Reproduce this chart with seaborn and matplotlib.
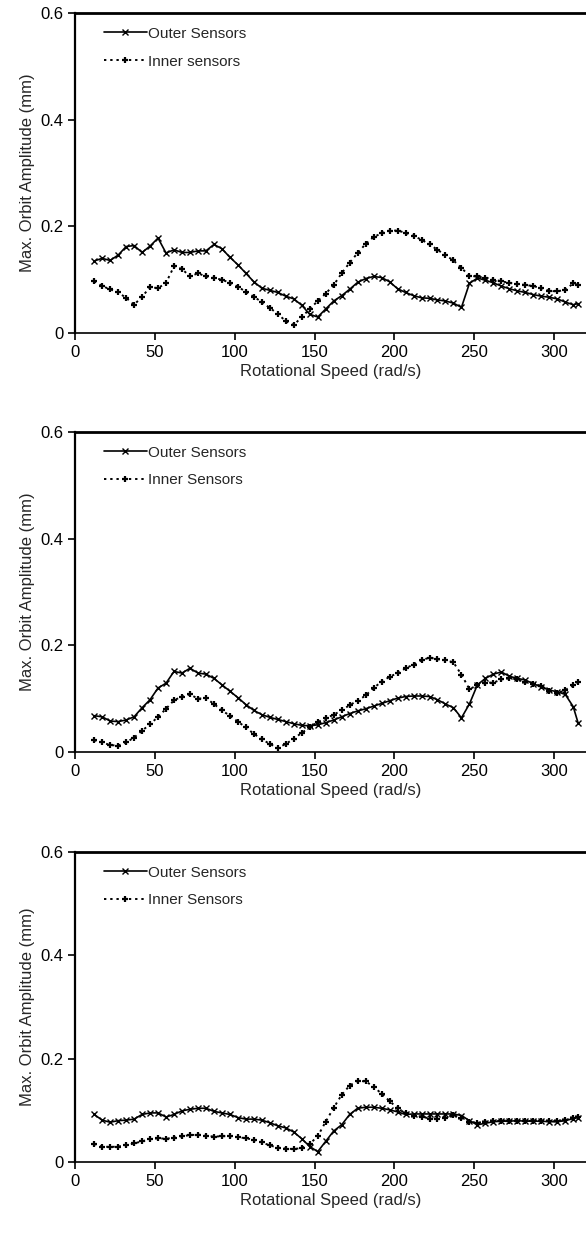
import numpy as np
import pandas as pd
import matplotlib
matplotlib.use("Agg")
import matplotlib.pyplot as plt
import seaborn as sns

# ---------------- data ----------------
speed = [12, 17, 22, 27, 32, 37, 42, 47, 52, 57, 62, 67, 72, 77, 82, 87, 92, 97,
         102, 107, 112, 117, 122, 127, 132, 137, 142, 147, 152, 157, 162, 167, 172,
         177, 182, 187, 192, 197, 202, 207, 212, 217, 222, 227, 232, 237, 242, 247,
         252, 257, 262, 267, 272, 277, 282, 287, 292, 297, 302, 307, 312, 315]

p1_outer = [0.135, 0.140, 0.136, 0.146, 0.162, 0.164, 0.151, 0.163, 0.178, 0.150,
            0.156, 0.151, 0.151, 0.154, 0.154, 0.166, 0.158, 0.142, 0.128, 0.112,
            0.096, 0.084, 0.080, 0.076, 0.069, 0.064, 0.052, 0.035, 0.030, 0.045,
            0.060, 0.070, 0.082, 0.095, 0.102, 0.106, 0.104, 0.096, 0.083, 0.076,
            0.070, 0.066, 0.065, 0.062, 0.060, 0.056, 0.048, 0.093, 0.103, 0.099,
            0.094, 0.088, 0.083, 0.079, 0.076, 0.072, 0.069, 0.067, 0.064, 0.058,
            0.053, 0.055]
p1_inner = [0.097, 0.088, 0.082, 0.076, 0.066, 0.053, 0.068, 0.086, 0.084, 0.094,
            0.125, 0.120, 0.106, 0.112, 0.106, 0.103, 0.100, 0.094, 0.087, 0.077,
            0.068, 0.058, 0.047, 0.036, 0.022, 0.015, 0.030, 0.045, 0.060, 0.074,
            0.090, 0.112, 0.132, 0.150, 0.167, 0.180, 0.187, 0.192, 0.192, 0.188,
            0.182, 0.175, 0.166, 0.156, 0.146, 0.136, 0.122, 0.107, 0.106, 0.103,
            0.100, 0.097, 0.094, 0.092, 0.090, 0.088, 0.084, 0.079, 0.078, 0.081,
            0.093, 0.090]

p2_outer = [0.068, 0.066, 0.058, 0.057, 0.060, 0.066, 0.083, 0.098, 0.120, 0.129,
            0.151, 0.148, 0.157, 0.148, 0.146, 0.138, 0.126, 0.114, 0.102, 0.089,
            0.078, 0.070, 0.065, 0.061, 0.057, 0.053, 0.050, 0.049, 0.051, 0.055,
            0.060, 0.066, 0.072, 0.077, 0.081, 0.086, 0.091, 0.096, 0.101, 0.104,
            0.105, 0.105, 0.104, 0.098, 0.090, 0.083, 0.064, 0.090, 0.126, 0.138,
            0.146, 0.150, 0.142, 0.138, 0.135, 0.128, 0.122, 0.116, 0.113, 0.108,
            0.085, 0.055]
p2_inner = [0.022, 0.018, 0.013, 0.012, 0.018, 0.027, 0.040, 0.052, 0.066, 0.081,
            0.097, 0.104, 0.108, 0.100, 0.101, 0.090, 0.078, 0.068, 0.057, 0.046,
            0.034, 0.024, 0.015, 0.008, 0.015, 0.025, 0.036, 0.046, 0.056, 0.063,
            0.070, 0.078, 0.088, 0.096, 0.106, 0.120, 0.132, 0.141, 0.148, 0.157,
            0.164, 0.172, 0.177, 0.174, 0.172, 0.168, 0.145, 0.118, 0.125, 0.130,
            0.130, 0.136, 0.139, 0.136, 0.131, 0.127, 0.124, 0.115, 0.110, 0.116,
            0.125, 0.132]

p3_outer = [0.092, 0.081, 0.077, 0.080, 0.081, 0.083, 0.092, 0.095, 0.095, 0.087,
            0.092, 0.099, 0.102, 0.104, 0.104, 0.098, 0.095, 0.092, 0.086, 0.083,
            0.083, 0.081, 0.076, 0.070, 0.066, 0.058, 0.045, 0.030, 0.020, 0.040,
            0.060, 0.072, 0.092, 0.104, 0.106, 0.106, 0.104, 0.101, 0.097, 0.092,
            0.093, 0.093, 0.093, 0.093, 0.093, 0.093, 0.090, 0.080, 0.072, 0.075,
            0.078, 0.079, 0.079, 0.080, 0.079, 0.079, 0.079, 0.078, 0.078, 0.080,
            0.084, 0.086]
p3_inner = [0.035, 0.030, 0.029, 0.030, 0.032, 0.036, 0.040, 0.044, 0.046, 0.045,
            0.047, 0.050, 0.052, 0.053, 0.051, 0.049, 0.050, 0.050, 0.048, 0.046,
            0.043, 0.038, 0.032, 0.028, 0.026, 0.025, 0.027, 0.035, 0.050, 0.078,
            0.105, 0.130, 0.148, 0.157, 0.156, 0.146, 0.132, 0.118, 0.104, 0.094,
            0.090, 0.088, 0.084, 0.083, 0.086, 0.091, 0.085, 0.078, 0.076, 0.078,
            0.079, 0.080, 0.080, 0.080, 0.079, 0.080, 0.080, 0.079, 0.079, 0.081,
            0.085, 0.087]

outer_labels = ["Outer Sensors", "Outer Sensors", "Outer Sensors"]
inner_labels = ["Inner sensors", "Inner Sensors", "Inner Sensors"]
x_ticks = [0, 50, 100, 150, 200, 250, 300]
y_ticks = [0, 0.2, 0.4, 0.6]
x_label = "Rotational Speed (rad/s)"
y_label = "Max. Orbit Amplitude (mm)"

# ---------------- plot ----------------
sns.set_style("ticks")
plt.rcParams["font.family"] = ["Liberation Sans", "DejaVu Sans"]

fig = plt.figure(figsize=(5.86, 12.35), dpi=100)

panels = [(p1_outer, p1_inner), (p2_outer, p2_inner), (p3_outer, p3_inner)]
boxes = [(13, 333), (432, 752), (852, 1162)]
H = 1235.0
left = 75 / 586.0

for i, ((outer, inner), (top, bot)) in enumerate(zip(panels, boxes)):
    ax = fig.add_axes([left, 1 - bot / H, 1 - left, (bot - top) / H])
    df = pd.DataFrame({"speed": speed, "outer": outer, "inner": inner})
    sns.lineplot(data=df, x="speed", y="outer", ax=ax, color="black", lw=1.2,
                 marker="x", markersize=4, markeredgewidth=1.0,
                 markeredgecolor="black", label=outer_labels[i], sort=False)
    sns.lineplot(data=df, x="speed", y="inner", ax=ax, color="black", lw=1.4,
                 linestyle=(0, (1.2, 2.0)), marker="+", markersize=4.5,
                 markeredgewidth=1.6, markeredgecolor="black",
                 label=inner_labels[i], sort=False)
    ax.set_xlim(0, 320)
    ax.set_ylim(0, 0.6)
    ax.set_xticks(x_ticks)
    ax.set_yticks(y_ticks)
    ax.set_yticklabels(["0", "0.2", "0.4", "0.6"])
    ax.tick_params(axis="both", labelsize=12, length=5, width=1.2,
                   direction="out", colors="black")
    ax.set_xlabel(x_label, fontsize=12, labelpad=3)
    ax.set_ylabel(y_label, fontsize=12, labelpad=4)
    ax.spines["right"].set_visible(False)
    ax.spines["top"].set_linewidth(2.0)
    ax.spines["left"].set_linewidth(1.6)
    ax.spines["bottom"].set_linewidth(1.2)
    for s in ["top", "left", "bottom"]:
        ax.spines[s].set_color("black")
    ax.grid(False)
    ax.legend(loc="upper left", frameon=False, fontsize=11,
              handlelength=2.8, handletextpad=0.1, labelspacing=0.9,
              borderaxespad=0.5, bbox_to_anchor=(0.03, 1.0))

fig.savefig("out.png", dpi=100)
